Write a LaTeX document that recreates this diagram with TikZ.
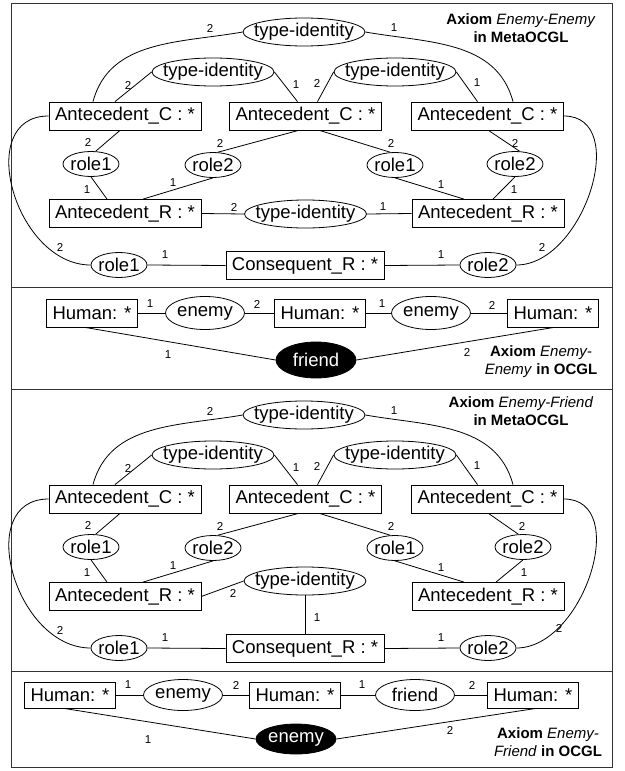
\documentclass[tikz,border=0pt]{standalone}
\usepackage{fontspec}
\setmainfont{Liberation Sans}
\usetikzlibrary{positioning,calc,shapes.geometric}

\begin{document}
\begin{tikzpicture}[
    x=1pt, y=-1pt,
    concept/.style={rectangle, draw, line width=0.8pt, inner xsep=6pt, inner ysep=0pt, minimum height=28pt, font=\fontsize{18.5}{20}\selectfont},
    relation/.style={ellipse, draw, line width=0.8pt, inner xsep=-30pt, inner ysep=-6pt, font=\fontsize{18.5}{20}\selectfont},
    typeid/.style={relation, minimum width=122pt, minimum height=28pt},
    role/.style={relation, minimum width=56pt, minimum height=25pt},
    rel/.style={relation, minimum width=79pt, minimum height=33pt},
    answer/.style={relation, fill=black, text=white, minimum width=80pt, minimum height=34pt},
    link/.style={draw, line width=0.8pt},
    card/.style={inner sep=0pt, font=\fontsize{11.5}{12}\selectfont},
    axiom/.style={align=center, inner sep=0pt, font=\fontsize{15}{18}\selectfont},
    frame/.style={draw, line width=1pt, color=black!80}
]
\useasboundingbox (0,0) rectangle (624,771);

% Frame and separators
\draw[frame] (11,3) rectangle (612,767);
\draw[frame] (11,287) -- (612,287);
\draw[frame] (11,389) -- (612,389);
\draw[frame] (11,671) -- (612,671);

% ---------- Axiom Enemy-Enemy in MetaOCGL ----------
\node[axiom] (eeTitle) at (521,28) {\textbf{Axiom} \textit{Enemy-Enemy}\\\textbf{in MetaOCGL}};

% Define node positions
\node[typeid] (eeT0) at (304,32) {type-identity};
\node[typeid] (eeT1) at (213,72) {type-identity};
\node[typeid] (eeT2) at (395,72) {type-identity};
\node[concept] (eeC1) at (125,116) {Antecedent\_C : *};
\node[concept] (eeC2) at (305.5,116) {Antecedent\_C : *};
\node[concept] (eeC3) at (487.5,116) {Antecedent\_C : *};
\node[role] (eeR1) at (91,164) {role1};
\node[role] (eeR2) at (213,165) {role2};
\node[role] (eeR3) at (395,165) {role1};
\node[role] (eeR4) at (515,164) {role2};
\node[concept] (eeA1) at (125,213.5) {Antecedent\_R : *};
\node[typeid] (eeTM) at (305.5,214) {type-identity};
\node[concept] (eeA2) at (488,213.5) {Antecedent\_R : *};
\node[role] (eeQ1) at (119,265) {role1};
\node[concept] (eeK) at (305,265.5) {Consequent\_R : *};
\node[role] (eeQ2) at (488,265) {role2};

% Draw edges
\draw[link] (eeT0.west) to[out=190,in=75] ([xshift=-32pt]eeC1.north);
\draw[link] (eeT0.east) to[out=-10,in=105] ([xshift=25.5pt]eeC3.north);
\draw[link] (eeT1.west) -- ([xshift=-10pt]eeC1.north);
\draw[link] (eeT1.east) -- ([xshift=-8pt]eeC2.north);
\draw[link] (eeT2.west) -- ([xshift=12pt]eeC2.north);
\draw[link] (eeT2.east) -- ([xshift=-10pt]eeC3.north);
\draw[link] ([xshift=-5pt]eeC1.south) -- (eeR1.70);
\draw[link] ([xshift=-7pt]eeC2.south) -- (eeR2.70);
\draw[link] ([xshift=14pt]eeC2.south) -- (eeR3.110);
\draw[link] ([xshift=1pt]eeC3.south) -- (eeR4.70);
\draw[link] (eeR1.south) -- ([xshift=-18pt]eeA1.north);
\draw[link] (eeR2.south) -- ([xshift=18pt]eeA1.north);
\draw[link] (eeR3.south) -- ([xshift=-24pt]eeA2.north);
\draw[link] (eeR4.south) -- ([xshift=5pt]eeA2.north);
\draw[link] (eeA1.east) -- (eeTM.west);
\draw[link] (eeTM.east) -- (eeA2.west);
\draw[link] (eeC1.west) to[out=180,in=180,looseness=1.25] (eeQ1.west);
\draw[link] (eeC3.east) to[out=0,in=0,looseness=1.1] (eeQ2.east);
\draw[link] (eeQ1.east) -- (eeK.west);
\draw[link] (eeK.east) -- (eeQ2.west);

% Cardinalities
\node[card] (eeN1) at (210,28) {2};
\node[card] (eeN2) at (394,28) {1};
\node[card] (eeN3) at (128,85) {2};
\node[card] (eeN4) at (296,85) {1};
\node[card] (eeN5) at (317,83) {2};
\node[card] (eeN6) at (477,83) {1};
\node[card] (eeN7) at (88,142) {2};
\node[card] (eeN8) at (220,143) {2};
\node[card] (eeN9) at (391,143) {2};
\node[card] (eeN10) at (515,143) {2};
\node[card] (eeN11) at (87,190) {1};
\node[card] (eeN12) at (173,183) {1};
\node[card] (eeN13) at (441,185) {1};
\node[card] (eeN14) at (514,190) {1};
\node[card] (eeN15) at (234,207) {2};
\node[card] (eeN16) at (383,207) {1};
\node[card] (eeN17) at (60,247) {2};
\node[card] (eeN18) at (165,255) {1};
\node[card] (eeN19) at (441,255) {1};
\node[card] (eeN20) at (542,247) {2};

% ---------- Axiom Enemy-Enemy in OCGL ----------
\node[axiom] (eeTitle2) at (541,362) {\textbf{Axiom} \textit{Enemy-}\\\textit{Enemy} \textbf{in OCGL}};

\node[concept] (eeH1) at (92,313) {Human: *};
\node[rel] (eeE1) at (205,313) {enemy};
\node[concept] (eeH2) at (320,313) {Human: *};
\node[rel] (eeE2) at (431,313) {enemy};
\node[concept] (eeH3) at (553,313) {Human: *};
\node[answer, minimum height=36pt] (eeF) at (316,360) {friend};

\draw[link] (eeH1.east) -- (eeE1.west);
\draw[link] (eeE1.east) -- (eeH2.west);
\draw[link] (eeH2.east) -- (eeE2.west);
\draw[link] (eeE2.east) -- (eeH3.west);
\draw[link] ([xshift=-7pt]eeH1.south) -- (eeF.west);
\draw[link] ([xshift=1pt]eeH3.south) -- (eeF.east);

\node[card] (eeM1) at (150,304) {1};
\node[card] (eeM2) at (257,304) {2};
\node[card] (eeM3) at (382,304) {1};
\node[card] (eeM4) at (492,305) {2};
\node[card] (eeM5) at (168,355) {1};
\node[card] (eeM6) at (467,352) {2};

% ---------- Axiom Enemy-Friend in MetaOCGL ----------
\node[axiom] (efTitle) at (521,411) {\textbf{Axiom} \textit{Enemy-Friend}\\\textbf{in MetaOCGL}};

% Define node positions
\node[typeid] (efT0) at (304,415) {type-identity};
\node[typeid] (efT1) at (213,455) {type-identity};
\node[typeid] (efT2) at (395,455) {type-identity};
\node[concept] (efC1) at (125,499) {Antecedent\_C : *};
\node[concept] (efC2) at (305.5,499) {Antecedent\_C : *};
\node[concept] (efC3) at (487.5,499) {Antecedent\_C : *};
\node[role] (efR1) at (91,547) {role1};
\node[role] (efR2) at (213,548) {role2};
\node[role] (efR3) at (395,548) {role1};
\node[role] (efR4) at (523,547) {role2};
\node[concept] (efA1) at (125,596.5) {Antecedent\_R : *};
\node[typeid] (efTM) at (305,581) {type-identity};
\node[concept] (efA2) at (488,596.5) {Antecedent\_R : *};
\node[role] (efQ1) at (119,648) {role1};
\node[concept] (efK) at (305,648.5) {Consequent\_R : *};
\node[role] (efQ2) at (488,648) {role2};

% Draw edges
\draw[link] (efT0.west) to[out=190,in=75] ([xshift=-32pt]efC1.north);
\draw[link] (efT0.east) to[out=-10,in=105] ([xshift=25.5pt]efC3.north);
\draw[link] (efT1.west) -- ([xshift=-10pt]efC1.north);
\draw[link] (efT1.east) -- ([xshift=-8pt]efC2.north);
\draw[link] (efT2.west) -- ([xshift=12pt]efC2.north);
\draw[link] (efT2.east) -- ([xshift=-10pt]efC3.north);
\draw[link] ([xshift=-5pt]efC1.south) -- (efR1.70);
\draw[link] ([xshift=-7pt]efC2.south) -- (efR2.70);
\draw[link] ([xshift=14pt]efC2.south) -- (efR3.110);
\draw[link] ([xshift=1pt]efC3.south) -- (efR4.110);
\draw[link] (efR1.south) -- ([xshift=-18pt]efA1.north);
\draw[link] (efR2.south) -- ([xshift=18pt]efA1.north);
\draw[link] (efR3.south) -- ([xshift=-24pt]efA2.north);
\draw[link] (efR4.south) -- ([xshift=8pt]efA2.north);
\draw[link] (efA1.east) -- (efTM.west);
\draw[link] (efTM.south) -- (efK.north);
\draw[link] (efC1.west) to[out=180,in=180,looseness=1.25] (efQ1.west);
\draw[link] (efC3.east) to[out=0,in=0,looseness=1.1] (efQ2.east);
\draw[link] (efQ1.east) -- (efK.west);
\draw[link] (efK.east) -- (efQ2.west);

% Cardinalities
\node[card] (efN1) at (210,411) {2};
\node[card] (efN2) at (394,411) {1};
\node[card] (efN3) at (128,468) {2};
\node[card] (efN4) at (296,468) {1};
\node[card] (efN5) at (317,466) {2};
\node[card] (efN6) at (477,466) {1};
\node[card] (efN7) at (88,525) {2};
\node[card] (efN8) at (220,526) {2};
\node[card] (efN9) at (391,526) {2};
\node[card] (efN10) at (522,526) {2};
\node[card] (efN11) at (87,573) {1};
\node[card] (efN12) at (173,566) {1};
\node[card] (efN13) at (441,568) {1};
\node[card] (efN14) at (524,573) {1};
\node[card] (efN15) at (233,593) {2};
\node[card] (efN16) at (317,618) {1};
\node[card] (efN17) at (60,630) {2};
\node[card] (efN18) at (165,638) {1};
\node[card] (efN19) at (441,638) {1};
\node[card] (efN20) at (559,628) {2};

% ---------- Axiom Enemy-Friend in OCGL ----------
\node[axiom] (efTitle2) at (548,742) {\textbf{Axiom} \textit{Enemy-}\\\textit{Friend} \textbf{in OCGL}};

\node[concept, minimum height=26pt] (efH1) at (70,695) {Human: *};
\node[rel, minimum height=31pt] (efE1) at (183,695) {enemy};
\node[concept, minimum height=26pt] (efH2) at (295,695) {Human: *};
\node[rel, minimum height=31pt] (efFr) at (415,695) {friend};
\node[concept, minimum height=26pt] (efH3) at (533,695) {Human: *};
\node[answer, minimum height=30pt] (efEn) at (296,739) {enemy};

\draw[link] (efH1.east) -- (efE1.west);
\draw[link] (efE1.east) -- (efH2.west);
\draw[link] (efH2.east) -- (efFr.west);
\draw[link] (efFr.east) -- (efH3.west);
\draw[link] ([xshift=-6pt]efH1.south) -- (efEn.west);
\draw[link] ([xshift=3pt]efH3.south) -- (efEn.east);

\node[card] (efM1) at (128,685) {1};
\node[card] (efM2) at (236,685) {2};
\node[card] (efM3) at (362,685) {1};
\node[card] (efM4) at (472,685) {2};
\node[card] (efM5) at (148,740) {1};
\node[card] (efM6) at (450,730) {2};

\end{tikzpicture}
\end{document}
